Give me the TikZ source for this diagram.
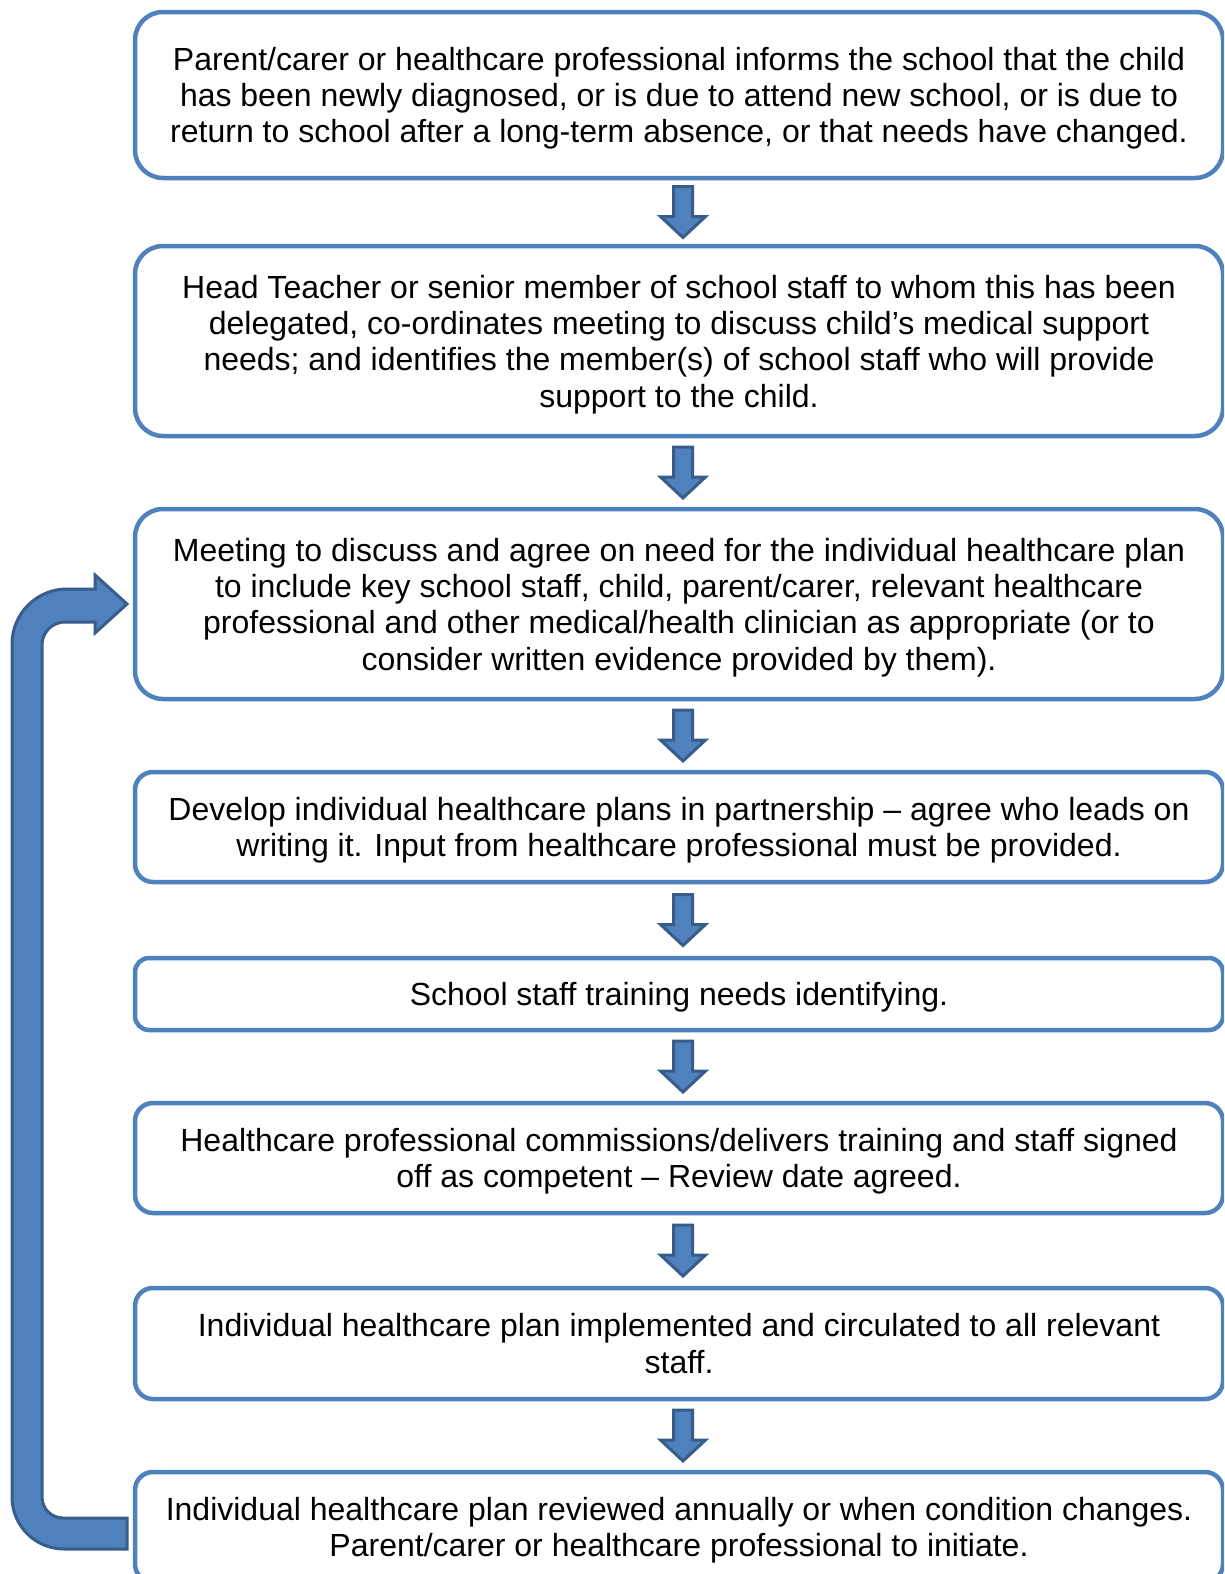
\documentclass[tikz,border=0pt]{standalone}
\usepackage{fontspec}
\setmainfont{Liberation Sans}
\usetikzlibrary{calc}
\definecolor{boxblue}{HTML}{4F81BD}
\definecolor{darkblue}{HTML}{385D8A}
\tikzset{
  stepbox/.style={draw=boxblue, line width=4.5pt, fill=white, rectangle,
    minimum width=1088pt, inner sep=0pt, outer sep=0pt, align=center,
    text depth=0pt,
    font=\fontsize{32}{36.3}\selectfont, text=black},
  blockarrow/.style={fill=boxblue, draw=darkblue, line width=3pt, line join=miter},
}
\newcommand\downblock[1]{%
  \draw[blockarrow, shift={(#1)}] (-9.5,-25.5) -- (9.5,-25.5) -- (9.5,4.5) -- (22.5,4.5)
     -- (0,25.5) -- (-22.5,4.5) -- (-9.5,4.5) -- cycle;}
\begin{document}
\begin{tikzpicture}[x=1pt,y=-1pt]
\useasboundingbox (0,0) rectangle (1224,1574);
\clip (0,0) rectangle (1224,1574);
\fill[white] (0,0) rectangle (1224,1574);

\node[stepbox, minimum height=166pt, rounded corners=28pt] (b1) at (679,95)
  {Parent/carer or healthcare professional informs the school that the child\\has been newly diagnosed, or is due to attend new school, or is due to\\return to school after a long-term absence, or that needs have changed.};
\node[stepbox, minimum height=190pt, rounded corners=28pt] (b2) at (679,341)
  {Head Teacher or senior member of school staff to whom this has been\\delegated, co-ordinates meeting to discuss child’s medical support\\needs; and identifies the member(s) of school staff who will provide\\support to the child.};
\node[stepbox, minimum height=190pt, rounded corners=28pt] (b3) at (679,604)
  {Meeting to discuss and agree on need for the individual healthcare plan\\to include key school staff, child, parent/carer, relevant healthcare\\professional and other medical/health clinician as appropriate (or to\\consider written evidence provided by them).};
\node[stepbox, minimum height=110pt, rounded corners=18pt] (b4) at (679,827)
  {Develop individual healthcare plans in partnership – agree who leads on\\writing it. Input from healthcare professional must be provided.};
\node[stepbox, minimum height=72pt, rounded corners=14pt] (b5) at (679,994)
  {School staff training needs identifying.};
\node[stepbox, minimum height=110pt, rounded corners=18pt] (b6) at (679,1158)
  {Healthcare professional commissions/delivers training and staff signed\\off as competent – Review date agreed.};
\node[stepbox, minimum height=111pt, rounded corners=18pt] (b7) at (679,1343.5)
  {Individual healthcare plan implemented and circulated to all relevant\\staff.};
\node[stepbox, minimum height=110pt, rounded corners=18pt] (b8) at (679,1527)
  {Individual healthcare plan reviewed annually or when condition changes.\\Parent/carer or healthcare professional to initiate.};

\foreach \a/\b in {b1/b2,b2/b3,b3/b4,b4/b5,b5/b6,b6/b7,b7/b8}{
  \coordinate (m\a) at ($(\a.south)!0.5!(\b.north)+(4,0)$);
  \downblock{m\a}
}

% loop-back arrow from the last step to the third
\draw[blockarrow] (127,1549) -- (64,1549) .. controls (35.3,1549) and (12,1525.7) .. (12,1497)
  -- (12,644) .. controls (12,613.6) and (36.6,589) .. (67,589)
  -- (95,589) -- (95,575) -- (127,604) -- (95,633) -- (95,622)
  -- (65,622) .. controls (52.3,622) and (42,632.3) .. (42,645)
  -- (42,1497) .. controls (42,1508.6) and (51.4,1518) .. (63,1518)
  -- (127,1518) -- cycle;
\end{tikzpicture}
\end{document}
